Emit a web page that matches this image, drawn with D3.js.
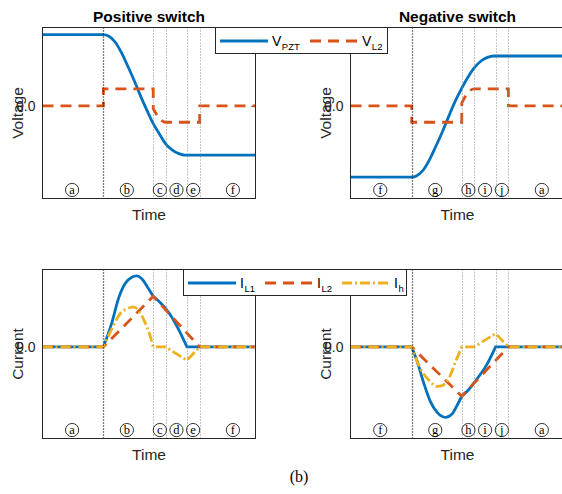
<!DOCTYPE html>
<html>
<head>
<meta charset="utf-8">
<script src="https://cdn.jsdelivr.net/npm/d3@7"></script>
<style>
body { margin: 0; background: #fff; }
text { font-family: "Liberation Sans", Arial, sans-serif; fill: #262626; }
</style>
</head>
<body>
<div id="chart"></div>
<script>
// time axis is arbitrary, 0..100 across each panel
const phaseT = [28.6, 52.0, 57.8, 67.8, 73.8];
const phaseLabelT = [13.9, 39.6, 55.1, 62.9, 70.7, 89.4];
const posPhases = ["a", "b", "c", "d", "e", "f"];
const negPhases = ["f", "g", "h", "i", "j", "a"];
const yTicks = [0];
const titles = ["Positive switch", "Negative switch"];
const rowLabels = ["Voltage", "Current"];

// each series is a list of pieces: ["s", pts] smooth, ["l", pts] straight
const posVpzt = [["s", [[0, 1], [28.6, 1], [31, 0.98], [34, 0.90], [37, 0.75], [40, 0.56], [43, 0.36], [46, 0.14],
  [49, -0.06], [52, -0.25], [55, -0.40], [58, -0.54], [61, -0.62], [64, -0.67], [67, -0.69], [100, -0.69]]]];
const posVl2 = [["l", [[0, 0], [28.6, 0], [28.6, 0.24], [52, 0.24], [52, -0.04]]],
  ["s", [[52, -0.04], [54.5, -0.16], [57.8, -0.23], [73.8, -0.23]]],
  ["l", [[73.8, -0.23], [73.8, 0], [100, 0]]]];
const negVpzt = [["s", [[0, -1], [28.6, -1], [31, -0.98], [34, -0.90], [37, -0.75], [40, -0.56], [43, -0.36], [46, -0.14],
  [49, 0.07], [52, 0.25], [55, 0.41], [58, 0.54], [61, 0.63], [64, 0.68], [67, 0.70], [100, 0.70]]]];
const negVl2 = [["l", [[0, 0], [28.6, 0], [28.6, -0.23], [52, -0.23], [52, 0.04]]],
  ["s", [[52, 0.04], [54.5, 0.17], [57.8, 0.24], [73.8, 0.24]]],
  ["l", [[73.8, 0.24], [73.8, 0], [100, 0]]]];

const posIl1 = [["l", [[0, 0], [28.6, 0]]],
  ["s", [[28.6, 0], [32.6, 0.35], [35.7, 0.69], [38.8, 0.90], [41.9, 0.99], [44.2, 1.01], [46.6, 0.97], [49.7, 0.83], [52, 0.72]]],
  ["s", [[52, 0.72], [55.9, 0.61], [59, 0.50], [63.7, 0.26], [67.8, 0]]],
  ["l", [[67.8, 0], [100, 0]]]];
const posIl2 = [["l", [[0, 0], [28.6, 0], [52, 0.72], [73.8, 0], [100, 0]]]];
const posIh = [["l", [[0, 0], [28.6, 0]]],
  ["s", [[28.6, 0], [32.6, 0.26], [36.4, 0.47], [40.3, 0.55], [42.7, 0.57], [45, 0.52], [48.1, 0.35], [50.5, 0.16], [52, 0]]],
  ["l", [[52, 0], [57.8, 0], [67.8, -0.19], [73.8, 0], [100, 0]]]];

const negIl1 = [["l", [[0, 0], [28.6, 0]]],
  ["s", [[28.6, 0], [31.2, -0.21], [34.3, -0.52], [37.4, -0.78], [40.5, -0.93], [44.4, -1.0], [47.5, -0.95], [49.8, -0.83], [52, -0.70]]],
  ["s", [[52, -0.70], [54.5, -0.63], [59.2, -0.45], [63.9, -0.24], [67.8, 0]]],
  ["l", [[67.8, 0], [100, 0]]]];
const negIl2 = [["l", [[0, 0], [28.6, 0], [52, -0.70], [73.8, 0], [100, 0]]]];
const negIh = [["l", [[0, 0], [28.6, 0]]],
  ["s", [[28.6, 0], [32.7, -0.31], [36.6, -0.47], [40.5, -0.56], [42.8, -0.55], [45.9, -0.45], [49.1, -0.21], [52, 0]]],
  ["l", [[52, 0], [57.8, 0], [67.8, 0.19], [73.8, 0], [100, 0]]]];

const voltNames = [["V", "PZT"], ["V", "L2"]];
const currNames = [["I", "L1"], ["I", "L2"], ["I", "h"]];

const blue = "#0072BD", red = "#D95319", yellow = "#EDB120";
const solid = null, dashed = "11,7", dashDot = "10,3,2,3";

let width = 562, height = 494;

let svg = d3.select("#chart").append("svg")
  .attr("width", width)
  .attr("height", height)
  .style("background", "#fff");

let cols = [{ x0: 42.5, x1: 255.5 }, { x0: 350.5, x1: 564.5 }];
let rows = [{ y0: 27.5, y1: 198.5 }, { y0: 269.5, y1: 438.5 }];

let panels = [
  { c: 0, r: 0, phases: posPhases, series: [[posVpzt, blue, solid], [posVl2, red, dashed]] },
  { c: 1, r: 0, phases: negPhases, series: [[negVpzt, blue, solid], [negVl2, red, dashed]] },
  { c: 0, r: 1, phases: posPhases, series: [[posIl1, blue, solid], [posIl2, red, dashed], [posIh, yellow, dashDot]] },
  { c: 1, r: 1, phases: negPhases, series: [[negIl1, blue, solid], [negIl2, red, dashed], [negIh, yellow, dashDot]] }
];

function piecePath(pieces, x, y) {
  return pieces.map((p, i) => {
    let line = d3.line()
      .x(d => x(d[0]))
      .y(d => y(d[1]))
      .curve(p[0] === "s" ? d3.curveMonotoneX : d3.curveLinear);
    let s = line(p[1]);
    return i ? "L" + s.slice(1) : s;
  }).join("");
}

panels.forEach((p, k) => {
  let c = cols[p.c], r = rows[p.r];
  let x = d3.scaleLinear().domain([0, 100]).range([c.x0, c.x1]);
  let y = d3.scaleLinear().domain([-1.3, 1.1]).range([r.y1, r.y0]);

  let g = svg.append("g");

  svg.append("clipPath").attr("id", "clip" + k)
    .append("rect")
    .attr("x", c.x0).attr("y", r.y0)
    .attr("width", c.x1 - c.x0).attr("height", r.y1 - r.y0);

  // ticks at zero, inside on both sides
  g.append("g")
    .attr("transform", `translate(${c.x0},0)`)
    .call(d3.axisLeft(y).tickValues(yTicks).tickSize(-4).tickPadding(7))
    .call(a => a.select(".domain").remove())
    .call(a => a.selectAll("line").attr("stroke", "#262626"))
    .call(a => a.selectAll("text").attr("font-size", 14).attr("fill", "#262626")
      .attr("font-family", "Liberation Sans, Arial, sans-serif"));
  g.append("g")
    .attr("transform", `translate(${c.x1},0)`)
    .call(d3.axisRight(y).tickValues(yTicks).tickSize(-4).tickFormat(""))
    .call(a => a.select(".domain").remove())
    .call(a => a.selectAll("line").attr("stroke", "#262626"));

  let plot = g.append("g").attr("clip-path", `url(#clip${k})`);

  p.series.forEach(s => {
    plot.append("path")
      .attr("d", piecePath(s[0], x, y))
      .attr("fill", "none")
      .attr("stroke", s[1])
      .attr("stroke-width", 2.8)
      .attr("stroke-dasharray", s[2]);
  });

  // phase markers
  plot.selectAll(".phase")
    .data(phaseT)
    .enter()
    .append("line")
    .attr("x1", d => Math.round(x(d)) + 0.5)
    .attr("x2", d => Math.round(x(d)) + 0.5)
    .attr("y1", r.y0).attr("y2", r.y1)
    .attr("stroke", (d, i) => i === 0 ? "#000" : "#8c8c8c")
    .attr("stroke-width", (d, i) => i === 0 ? 1.3 : 1)
    .attr("stroke-dasharray", "1,2");

  let lab = g.selectAll(".ph")
    .data(p.phases)
    .enter()
    .append("g")
    .attr("transform", (d, i) => `translate(${x(phaseLabelT[i])},${y(-1.18)})`);
  lab.append("circle").attr("r", 6.6).attr("fill", "none").attr("stroke", "#000").attr("stroke-width", 0.8);
  lab.append("text")
    .attr("text-anchor", "middle")
    .attr("y", 4)
    .style("font-family", "Liberation Serif, Times New Roman, serif")
    .style("font-size", "12.5px")
    .style("fill", "#000")
    .text(d => d);

  // frame
  g.append("rect")
    .attr("x", c.x0).attr("y", r.y0)
    .attr("width", c.x1 - c.x0).attr("height", r.y1 - r.y0)
    .attr("fill", "none")
    .attr("stroke", "#262626")
    .attr("stroke-width", 1);

  g.append("text")
    .attr("x", (c.x0 + c.x1) / 2)
    .attr("y", r.y1 + 21.5)
    .attr("text-anchor", "middle")
    .style("font-size", "15.5px")
    .text("Time");

  g.append("text")
    .attr("transform", `translate(${c.x0 - 20},${(r.y0 + r.y1) / 2}) rotate(-90)`)
    .attr("text-anchor", "middle")
    .style("font-size", "15.5px")
    .text(rowLabels[p.r]);

  if (p.r === 0) {
    g.append("text")
      .attr("x", (c.x0 + c.x1) / 2)
      .attr("y", 21.5)
      .attr("text-anchor", "middle")
      .style("font-size", "15.5px")
      .style("font-weight", "bold")
      .style("fill", "#000")
      .text(titles[p.c]);
  }
});

// legends
function legend(box, items) {
  let g = svg.append("g");
  g.append("rect")
    .attr("x", box[0]).attr("y", box[1])
    .attr("width", box[2]).attr("height", box[3])
    .attr("fill", "#fff")
    .attr("stroke", "#262626")
    .attr("stroke-width", 1);
  items.forEach(it => {
    g.append("line")
      .attr("x1", it.x).attr("x2", it.x + 48)
      .attr("y1", it.y).attr("y2", it.y)
      .attr("stroke", it.color)
      .attr("stroke-width", 2.8)
      .attr("stroke-dasharray", it.dash);
    let t = g.append("text")
      .attr("x", it.x + 52)
      .attr("y", it.y + 4.8)
      .style("font-size", "14px")
      .style("fill", "#000");
    t.append("tspan").text(it.name[0]);
    t.append("tspan").attr("dy", 4.5).attr("dx", 0.5).style("font-size", "9.5px").text(it.name[1]);
  });
}

legend([215.5, 27.5, 172, 26], [
  { x: 220, y: 41, color: blue, dash: solid, name: voltNames[0] },
  { x: 310, y: 41, color: red, dash: dashed, name: voltNames[1] }
]);
legend([183.5, 269.5, 223, 26], [
  { x: 188, y: 283, color: blue, dash: solid, name: currNames[0] },
  { x: 265, y: 283, color: red, dash: dashed, name: currNames[1] },
  { x: 342, y: 283, color: yellow, dash: dashDot, name: currNames[2] }
]);

svg.append("text")
  .attr("x", 299)
  .attr("y", 482)
  .attr("text-anchor", "middle")
  .style("font-family", "Liberation Serif, Times New Roman, serif")
  .style("font-size", "16px")
  .style("fill", "#000")
  .text("(b)");
</script>
</body>
</html>
